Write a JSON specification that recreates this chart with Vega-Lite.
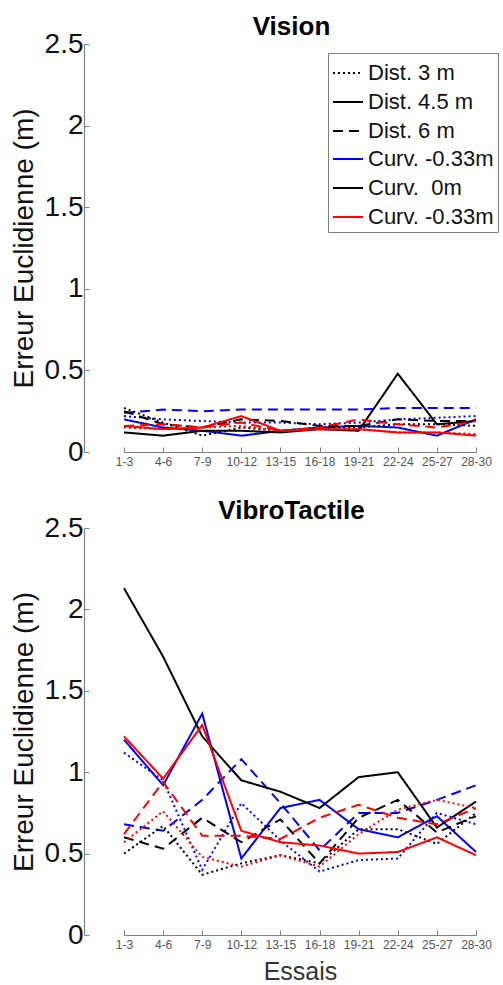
{
  "$schema": "https://vega.github.io/schema/vega-lite/v6.json",
  "background": "white",
  "padding": {"left": 10, "top": 14, "right": 0, "bottom": 0},
  "spacing": 31,
  "config": {
    "font": "Liberation Sans",
    "view": {"stroke": null},
    "axis": {"grid": false, "domainColor": "#808080", "tickColor": "#808080", "domainWidth": 1.2, "tickWidth": 1},
    "axisY": {"labelFontSize": 28, "labelColor": "#111", "titleFontSize": 28, "titleFontWeight": "normal", "titleColor": "#111", "tickSize": -5, "labelPadding": 6, "titlePadding": 6},
    "axisX": {"labelFontSize": 12, "labelColor": "#555", "titleFontSize": 25, "titleFontWeight": "normal", "titleColor": "#333", "tickSize": -5, "labelPadding": 9, "labelAngle": 0, "titlePadding": 9},
    "title": {"fontSize": 26, "fontWeight": "bold", "color": "#000", "anchor": "middle", "offset": -10},
    "line": {"strokeWidth": 2}
  },
  "data": {"values": [
    {"panel":"Vision","essai":"1-3","dist":"3","curv":"-0.33","erreur":0.22},
    {"panel":"Vision","essai":"4-6","dist":"3","curv":"-0.33","erreur":0.20},
    {"panel":"Vision","essai":"7-9","dist":"3","curv":"-0.33","erreur":0.19},
    {"panel":"Vision","essai":"10-12","dist":"3","curv":"-0.33","erreur":0.18},
    {"panel":"Vision","essai":"13-15","dist":"3","curv":"-0.33","erreur":0.18},
    {"panel":"Vision","essai":"16-18","dist":"3","curv":"-0.33","erreur":0.17},
    {"panel":"Vision","essai":"19-21","dist":"3","curv":"-0.33","erreur":0.18},
    {"panel":"Vision","essai":"22-24","dist":"3","curv":"-0.33","erreur":0.20},
    {"panel":"Vision","essai":"25-27","dist":"3","curv":"-0.33","erreur":0.21},
    {"panel":"Vision","essai":"28-30","dist":"3","curv":"-0.33","erreur":0.22},
    {"panel":"Vision","essai":"1-3","dist":"4.5","curv":"-0.33","erreur":0.20},
    {"panel":"Vision","essai":"4-6","dist":"4.5","curv":"-0.33","erreur":0.15},
    {"panel":"Vision","essai":"7-9","dist":"4.5","curv":"-0.33","erreur":0.13},
    {"panel":"Vision","essai":"10-12","dist":"4.5","curv":"-0.33","erreur":0.10},
    {"panel":"Vision","essai":"13-15","dist":"4.5","curv":"-0.33","erreur":0.13},
    {"panel":"Vision","essai":"16-18","dist":"4.5","curv":"-0.33","erreur":0.15},
    {"panel":"Vision","essai":"19-21","dist":"4.5","curv":"-0.33","erreur":0.16},
    {"panel":"Vision","essai":"22-24","dist":"4.5","curv":"-0.33","erreur":0.15},
    {"panel":"Vision","essai":"25-27","dist":"4.5","curv":"-0.33","erreur":0.10},
    {"panel":"Vision","essai":"28-30","dist":"4.5","curv":"-0.33","erreur":0.20},
    {"panel":"Vision","essai":"1-3","dist":"6","curv":"-0.33","erreur":0.24},
    {"panel":"Vision","essai":"4-6","dist":"6","curv":"-0.33","erreur":0.26},
    {"panel":"Vision","essai":"7-9","dist":"6","curv":"-0.33","erreur":0.25},
    {"panel":"Vision","essai":"10-12","dist":"6","curv":"-0.33","erreur":0.26},
    {"panel":"Vision","essai":"13-15","dist":"6","curv":"-0.33","erreur":0.26},
    {"panel":"Vision","essai":"16-18","dist":"6","curv":"-0.33","erreur":0.26},
    {"panel":"Vision","essai":"19-21","dist":"6","curv":"-0.33","erreur":0.26},
    {"panel":"Vision","essai":"22-24","dist":"6","curv":"-0.33","erreur":0.27},
    {"panel":"Vision","essai":"25-27","dist":"6","curv":"-0.33","erreur":0.27},
    {"panel":"Vision","essai":"28-30","dist":"6","curv":"-0.33","erreur":0.27},
    {"panel":"Vision","essai":"1-3","dist":"3","curv":"0","erreur":0.27},
    {"panel":"Vision","essai":"4-6","dist":"3","curv":"0","erreur":0.18},
    {"panel":"Vision","essai":"7-9","dist":"3","curv":"0","erreur":0.10},
    {"panel":"Vision","essai":"10-12","dist":"3","curv":"0","erreur":0.15},
    {"panel":"Vision","essai":"13-15","dist":"3","curv":"0","erreur":0.13},
    {"panel":"Vision","essai":"16-18","dist":"3","curv":"0","erreur":0.15},
    {"panel":"Vision","essai":"19-21","dist":"3","curv":"0","erreur":0.15},
    {"panel":"Vision","essai":"22-24","dist":"3","curv":"0","erreur":0.17},
    {"panel":"Vision","essai":"25-27","dist":"3","curv":"0","erreur":0.17},
    {"panel":"Vision","essai":"28-30","dist":"3","curv":"0","erreur":0.16},
    {"panel":"Vision","essai":"1-3","dist":"4.5","curv":"0","erreur":0.12},
    {"panel":"Vision","essai":"4-6","dist":"4.5","curv":"0","erreur":0.10},
    {"panel":"Vision","essai":"7-9","dist":"4.5","curv":"0","erreur":0.13},
    {"panel":"Vision","essai":"10-12","dist":"4.5","curv":"0","erreur":0.13},
    {"panel":"Vision","essai":"13-15","dist":"4.5","curv":"0","erreur":0.12},
    {"panel":"Vision","essai":"16-18","dist":"4.5","curv":"0","erreur":0.14},
    {"panel":"Vision","essai":"19-21","dist":"4.5","curv":"0","erreur":0.13},
    {"panel":"Vision","essai":"22-24","dist":"4.5","curv":"0","erreur":0.48},
    {"panel":"Vision","essai":"25-27","dist":"4.5","curv":"0","erreur":0.17},
    {"panel":"Vision","essai":"28-30","dist":"4.5","curv":"0","erreur":0.19},
    {"panel":"Vision","essai":"1-3","dist":"6","curv":"0","erreur":0.25},
    {"panel":"Vision","essai":"4-6","dist":"6","curv":"0","erreur":0.17},
    {"panel":"Vision","essai":"7-9","dist":"6","curv":"0","erreur":0.15},
    {"panel":"Vision","essai":"10-12","dist":"6","curv":"0","erreur":0.20},
    {"panel":"Vision","essai":"13-15","dist":"6","curv":"0","erreur":0.19},
    {"panel":"Vision","essai":"16-18","dist":"6","curv":"0","erreur":0.16},
    {"panel":"Vision","essai":"19-21","dist":"6","curv":"0","erreur":0.16},
    {"panel":"Vision","essai":"22-24","dist":"6","curv":"0","erreur":0.20},
    {"panel":"Vision","essai":"25-27","dist":"6","curv":"0","erreur":0.19},
    {"panel":"Vision","essai":"28-30","dist":"6","curv":"0","erreur":0.19},
    {"panel":"Vision","essai":"1-3","dist":"3","curv":"0.33","erreur":0.15},
    {"panel":"Vision","essai":"4-6","dist":"3","curv":"0.33","erreur":0.14},
    {"panel":"Vision","essai":"7-9","dist":"3","curv":"0.33","erreur":0.15},
    {"panel":"Vision","essai":"10-12","dist":"3","curv":"0.33","erreur":0.16},
    {"panel":"Vision","essai":"13-15","dist":"3","curv":"0.33","erreur":0.13},
    {"panel":"Vision","essai":"16-18","dist":"3","curv":"0.33","erreur":0.14},
    {"panel":"Vision","essai":"19-21","dist":"3","curv":"0.33","erreur":0.14},
    {"panel":"Vision","essai":"22-24","dist":"3","curv":"0.33","erreur":0.12},
    {"panel":"Vision","essai":"25-27","dist":"3","curv":"0.33","erreur":0.12},
    {"panel":"Vision","essai":"28-30","dist":"3","curv":"0.33","erreur":0.11},
    {"panel":"Vision","essai":"1-3","dist":"4.5","curv":"0.33","erreur":0.16},
    {"panel":"Vision","essai":"4-6","dist":"4.5","curv":"0.33","erreur":0.14},
    {"panel":"Vision","essai":"7-9","dist":"4.5","curv":"0.33","erreur":0.15},
    {"panel":"Vision","essai":"10-12","dist":"4.5","curv":"0.33","erreur":0.22},
    {"panel":"Vision","essai":"13-15","dist":"4.5","curv":"0.33","erreur":0.13},
    {"panel":"Vision","essai":"16-18","dist":"4.5","curv":"0.33","erreur":0.14},
    {"panel":"Vision","essai":"19-21","dist":"4.5","curv":"0.33","erreur":0.14},
    {"panel":"Vision","essai":"22-24","dist":"4.5","curv":"0.33","erreur":0.12},
    {"panel":"Vision","essai":"25-27","dist":"4.5","curv":"0.33","erreur":0.12},
    {"panel":"Vision","essai":"28-30","dist":"4.5","curv":"0.33","erreur":0.10},
    {"panel":"Vision","essai":"1-3","dist":"6","curv":"0.33","erreur":0.16},
    {"panel":"Vision","essai":"4-6","dist":"6","curv":"0.33","erreur":0.17},
    {"panel":"Vision","essai":"7-9","dist":"6","curv":"0.33","erreur":0.15},
    {"panel":"Vision","essai":"10-12","dist":"6","curv":"0.33","erreur":0.18},
    {"panel":"Vision","essai":"13-15","dist":"6","curv":"0.33","erreur":0.13},
    {"panel":"Vision","essai":"16-18","dist":"6","curv":"0.33","erreur":0.15},
    {"panel":"Vision","essai":"19-21","dist":"6","curv":"0.33","erreur":0.20},
    {"panel":"Vision","essai":"22-24","dist":"6","curv":"0.33","erreur":0.17},
    {"panel":"Vision","essai":"25-27","dist":"6","curv":"0.33","erreur":0.15},
    {"panel":"Vision","essai":"28-30","dist":"6","curv":"0.33","erreur":0.19},
    {"panel":"VibroTactile","essai":"1-3","dist":"3","curv":"-0.33","erreur":1.12},
    {"panel":"VibroTactile","essai":"4-6","dist":"3","curv":"-0.33","erreur":0.95},
    {"panel":"VibroTactile","essai":"7-9","dist":"3","curv":"-0.33","erreur":0.40},
    {"panel":"VibroTactile","essai":"10-12","dist":"3","curv":"-0.33","erreur":0.81},
    {"panel":"VibroTactile","essai":"13-15","dist":"3","curv":"-0.33","erreur":0.58},
    {"panel":"VibroTactile","essai":"16-18","dist":"3","curv":"-0.33","erreur":0.39},
    {"panel":"VibroTactile","essai":"19-21","dist":"3","curv":"-0.33","erreur":0.46},
    {"panel":"VibroTactile","essai":"22-24","dist":"3","curv":"-0.33","erreur":0.47},
    {"panel":"VibroTactile","essai":"25-27","dist":"3","curv":"-0.33","erreur":0.75},
    {"panel":"VibroTactile","essai":"28-30","dist":"3","curv":"-0.33","erreur":0.68},
    {"panel":"VibroTactile","essai":"1-3","dist":"4.5","curv":"-0.33","erreur":1.20},
    {"panel":"VibroTactile","essai":"4-6","dist":"4.5","curv":"-0.33","erreur":0.92},
    {"panel":"VibroTactile","essai":"7-9","dist":"4.5","curv":"-0.33","erreur":1.36},
    {"panel":"VibroTactile","essai":"10-12","dist":"4.5","curv":"-0.33","erreur":0.47},
    {"panel":"VibroTactile","essai":"13-15","dist":"4.5","curv":"-0.33","erreur":0.78},
    {"panel":"VibroTactile","essai":"16-18","dist":"4.5","curv":"-0.33","erreur":0.83},
    {"panel":"VibroTactile","essai":"19-21","dist":"4.5","curv":"-0.33","erreur":0.65},
    {"panel":"VibroTactile","essai":"22-24","dist":"4.5","curv":"-0.33","erreur":0.60},
    {"panel":"VibroTactile","essai":"25-27","dist":"4.5","curv":"-0.33","erreur":0.73},
    {"panel":"VibroTactile","essai":"28-30","dist":"4.5","curv":"-0.33","erreur":0.51},
    {"panel":"VibroTactile","essai":"1-3","dist":"6","curv":"-0.33","erreur":0.68},
    {"panel":"VibroTactile","essai":"4-6","dist":"6","curv":"-0.33","erreur":0.64},
    {"panel":"VibroTactile","essai":"7-9","dist":"6","curv":"-0.33","erreur":0.83},
    {"panel":"VibroTactile","essai":"10-12","dist":"6","curv":"-0.33","erreur":1.08},
    {"panel":"VibroTactile","essai":"13-15","dist":"6","curv":"-0.33","erreur":0.81},
    {"panel":"VibroTactile","essai":"16-18","dist":"6","curv":"-0.33","erreur":0.52},
    {"panel":"VibroTactile","essai":"19-21","dist":"6","curv":"-0.33","erreur":0.75},
    {"panel":"VibroTactile","essai":"22-24","dist":"6","curv":"-0.33","erreur":0.75},
    {"panel":"VibroTactile","essai":"25-27","dist":"6","curv":"-0.33","erreur":0.83},
    {"panel":"VibroTactile","essai":"28-30","dist":"6","curv":"-0.33","erreur":0.92},
    {"panel":"VibroTactile","essai":"1-3","dist":"3","curv":"0","erreur":0.50},
    {"panel":"VibroTactile","essai":"4-6","dist":"3","curv":"0","erreur":0.67},
    {"panel":"VibroTactile","essai":"7-9","dist":"3","curv":"0","erreur":0.37},
    {"panel":"VibroTactile","essai":"10-12","dist":"3","curv":"0","erreur":0.44},
    {"panel":"VibroTactile","essai":"13-15","dist":"3","curv":"0","erreur":0.49},
    {"panel":"VibroTactile","essai":"16-18","dist":"3","curv":"0","erreur":0.44},
    {"panel":"VibroTactile","essai":"19-21","dist":"3","curv":"0","erreur":0.65},
    {"panel":"VibroTactile","essai":"22-24","dist":"3","curv":"0","erreur":0.65},
    {"panel":"VibroTactile","essai":"25-27","dist":"3","curv":"0","erreur":0.56},
    {"panel":"VibroTactile","essai":"28-30","dist":"3","curv":"0","erreur":0.75},
    {"panel":"VibroTactile","essai":"1-3","dist":"4.5","curv":"0","erreur":2.13},
    {"panel":"VibroTactile","essai":"4-6","dist":"4.5","curv":"0","erreur":1.71},
    {"panel":"VibroTactile","essai":"7-9","dist":"4.5","curv":"0","erreur":1.22},
    {"panel":"VibroTactile","essai":"10-12","dist":"4.5","curv":"0","erreur":0.95},
    {"panel":"VibroTactile","essai":"13-15","dist":"4.5","curv":"0","erreur":0.88},
    {"panel":"VibroTactile","essai":"16-18","dist":"4.5","curv":"0","erreur":0.78},
    {"panel":"VibroTactile","essai":"19-21","dist":"4.5","curv":"0","erreur":0.97},
    {"panel":"VibroTactile","essai":"22-24","dist":"4.5","curv":"0","erreur":1.00},
    {"panel":"VibroTactile","essai":"25-27","dist":"4.5","curv":"0","erreur":0.66},
    {"panel":"VibroTactile","essai":"28-30","dist":"4.5","curv":"0","erreur":0.82},
    {"panel":"VibroTactile","essai":"1-3","dist":"6","curv":"0","erreur":0.60},
    {"panel":"VibroTactile","essai":"4-6","dist":"6","curv":"0","erreur":0.53},
    {"panel":"VibroTactile","essai":"7-9","dist":"6","curv":"0","erreur":0.72},
    {"panel":"VibroTactile","essai":"10-12","dist":"6","curv":"0","erreur":0.57},
    {"panel":"VibroTactile","essai":"13-15","dist":"6","curv":"0","erreur":0.71},
    {"panel":"VibroTactile","essai":"16-18","dist":"6","curv":"0","erreur":0.44},
    {"panel":"VibroTactile","essai":"19-21","dist":"6","curv":"0","erreur":0.72},
    {"panel":"VibroTactile","essai":"22-24","dist":"6","curv":"0","erreur":0.83},
    {"panel":"VibroTactile","essai":"25-27","dist":"6","curv":"0","erreur":0.63},
    {"panel":"VibroTactile","essai":"28-30","dist":"6","curv":"0","erreur":0.73},
    {"panel":"VibroTactile","essai":"1-3","dist":"3","curv":"0.33","erreur":0.57},
    {"panel":"VibroTactile","essai":"4-6","dist":"3","curv":"0.33","erreur":0.76},
    {"panel":"VibroTactile","essai":"7-9","dist":"3","curv":"0.33","erreur":0.48},
    {"panel":"VibroTactile","essai":"10-12","dist":"3","curv":"0.33","erreur":0.42},
    {"panel":"VibroTactile","essai":"13-15","dist":"3","curv":"0.33","erreur":0.49},
    {"panel":"VibroTactile","essai":"16-18","dist":"3","curv":"0.33","erreur":0.42},
    {"panel":"VibroTactile","essai":"19-21","dist":"3","curv":"0.33","erreur":0.62},
    {"panel":"VibroTactile","essai":"22-24","dist":"3","curv":"0.33","erreur":0.77},
    {"panel":"VibroTactile","essai":"25-27","dist":"3","curv":"0.33","erreur":0.83},
    {"panel":"VibroTactile","essai":"28-30","dist":"3","curv":"0.33","erreur":0.78},
    {"panel":"VibroTactile","essai":"1-3","dist":"4.5","curv":"0.33","erreur":1.22},
    {"panel":"VibroTactile","essai":"4-6","dist":"4.5","curv":"0.33","erreur":0.96},
    {"panel":"VibroTactile","essai":"7-9","dist":"4.5","curv":"0.33","erreur":1.29},
    {"panel":"VibroTactile","essai":"10-12","dist":"4.5","curv":"0.33","erreur":0.64},
    {"panel":"VibroTactile","essai":"13-15","dist":"4.5","curv":"0.33","erreur":0.57},
    {"panel":"VibroTactile","essai":"16-18","dist":"4.5","curv":"0.33","erreur":0.55},
    {"panel":"VibroTactile","essai":"19-21","dist":"4.5","curv":"0.33","erreur":0.50},
    {"panel":"VibroTactile","essai":"22-24","dist":"4.5","curv":"0.33","erreur":0.51},
    {"panel":"VibroTactile","essai":"25-27","dist":"4.5","curv":"0.33","erreur":0.60},
    {"panel":"VibroTactile","essai":"28-30","dist":"4.5","curv":"0.33","erreur":0.49},
    {"panel":"VibroTactile","essai":"1-3","dist":"6","curv":"0.33","erreur":0.62},
    {"panel":"VibroTactile","essai":"4-6","dist":"6","curv":"0.33","erreur":0.94},
    {"panel":"VibroTactile","essai":"7-9","dist":"6","curv":"0.33","erreur":0.61},
    {"panel":"VibroTactile","essai":"10-12","dist":"6","curv":"0.33","erreur":0.61},
    {"panel":"VibroTactile","essai":"13-15","dist":"6","curv":"0.33","erreur":0.59},
    {"panel":"VibroTactile","essai":"16-18","dist":"6","curv":"0.33","erreur":0.72},
    {"panel":"VibroTactile","essai":"19-21","dist":"6","curv":"0.33","erreur":0.80},
    {"panel":"VibroTactile","essai":"22-24","dist":"6","curv":"0.33","erreur":0.72},
    {"panel":"VibroTactile","essai":"25-27","dist":"6","curv":"0.33","erreur":0.68},
    {"panel":"VibroTactile","essai":"28-30","dist":"6","curv":"0.33","erreur":0.78}
  ]},
  "vconcat": [
    {
      "title": "Vision",
      "width": 415,
      "height": 408,
      "transform": [{"filter": "datum.panel == 'Vision'"}],
      "mark": {"type": "line", "strokeWidth": 2},
      "encoding": {
        "x": {"field": "essai", "type": "ordinal", "sort": null, "scale": {"type": "point", "range": [40, 392], "padding": 0}, "axis": {"title": null}},
        "y": {"field": "erreur", "type": "quantitative", "scale": {"domain": [0, 2.5], "nice": false, "zero": true}, "axis": {"title": "Erreur Euclidienne (m)", "values": [0, 0.5, 1, 1.5, 2, 2.5], "format": "~g"}},
        "color": {"field": "curv", "type": "nominal", "scale": {"domain": ["-0.33", "0", "0.33"], "range": ["#0000ff", "#000000", "#ff0000"]},
          "legend": {"orient": "none", "legendX": 244, "legendY": 9, "title": " ", "titleFontSize": 1, "titlePadding": 85, "labelFontSize": 22, "labelColor": "#111", "symbolType": "stroke", "symbolSize": 900, "symbolStrokeWidth": 2, "rowPadding": 2, "padding": 4, "strokeColor": "#808080", "labelExpr": "datum.label == '-0.33' ? 'Curv. -0.33m' : datum.label == '0' ? 'Curv. \u00a00m' : 'Curv. -0.33m'"}},
        "strokeDash": {"field": "dist", "type": "nominal", "scale": {"domain": ["3", "4.5", "6"], "range": [[2, 3], [1, 0], [10, 6]]},
          "legend": {"orient": "none", "legendX": 244, "legendY": 9, "title": null, "labelFontSize": 22, "labelColor": "#111", "symbolType": "stroke", "symbolSize": 900, "symbolStrokeWidth": 2, "symbolStrokeColor": "#000", "rowPadding": 2, "padding": 4, "labelExpr": "'Dist. ' + datum.label + ' m'"}}
      }
    },
    {
      "title": "VibroTactile",
      "width": 415,
      "height": 407,
      "transform": [{"filter": "datum.panel == 'VibroTactile'"}],
      "mark": {"type": "line", "strokeWidth": 2},
      "encoding": {
        "x": {"field": "essai", "type": "ordinal", "sort": null, "scale": {"type": "point", "range": [40, 392], "padding": 0}, "axis": {"title": "Essais"}},
        "y": {"field": "erreur", "type": "quantitative", "scale": {"domain": [0, 2.5], "nice": false, "zero": true}, "axis": {"title": "Erreur Euclidienne (m)", "values": [0, 0.5, 1, 1.5, 2, 2.5], "format": "~g"}},
        "color": {"field": "curv", "type": "nominal", "scale": {"domain": ["-0.33", "0", "0.33"], "range": ["#0000ff", "#000000", "#ff0000"]}},
        "strokeDash": {"field": "dist", "type": "nominal", "scale": {"domain": ["3", "4.5", "6"], "range": [[2, 3], [1, 0], [10, 6]]}}
      }
    }
  ]
}
